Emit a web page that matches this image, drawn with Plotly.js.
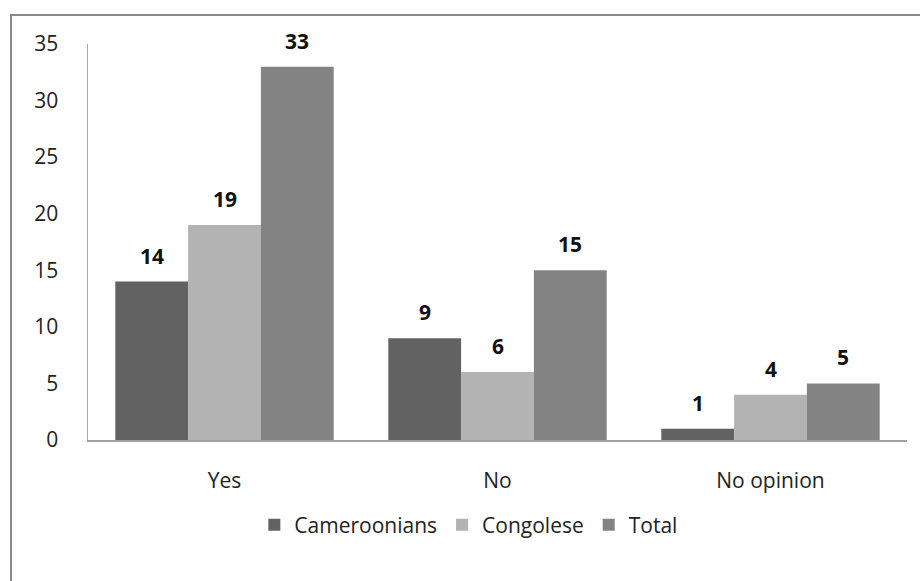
<!DOCTYPE html>
<html>
<head>
<meta charset="utf-8">
<script src="https://cdn.plot.ly/plotly-3.0.1.min.js"></script>
<style>
  html, body { margin: 0; padding: 0; background: #fff; overflow: hidden; }
  #wrap { position: relative; width: 920px; height: 581px; }
  #chart { position: absolute; left: 0; top: 0; width: 920px; height: 581px; }
  #frame {
    position: absolute; left: 10px; top: 14px; width: 940px; height: 600px;
    border-left: 2px solid #8a8a8a; border-top: 2px solid #8a8a8a;
    pointer-events: none;
  }
</style>
</head>
<body>
<div id="wrap">
  <div id="chart"></div>
  <div id="frame"></div>
</div>
<script>
// Survey answers by group
const categories = ['Yes', 'No', 'No opinion'];
const seriesNames = ['Cameroonians', 'Congolese', 'Total'];
const cameroonians = [14, 9, 1];
const congolese = [19, 6, 4];
const total = [33, 15, 5];
const yTicks = [0, 5, 10, 15, 20, 25, 30, 35];

const seriesValues = [cameroonians, congolese, total];
const seriesColors = ['#626262', '#b3b3b3', '#838383'];
const FONT = 'Open Sans, Noto Sans, sans-serif';

const traces = seriesValues.map((vals, i) => ({
  type: 'bar',
  name: seriesNames[i],
  x: categories,
  y: vals,
  marker: { color: seriesColors[i], line: { width: 0 } },
  hoverinfo: 'x+y+name'
}));

// Value labels above each bar, offset to the bar's slot within its group
const groupWidth = 0.8;
const slot = groupWidth / seriesValues.length;
const annotations = [];
seriesValues.forEach((vals, i) => {
  const offset = -groupWidth / 2 + slot * (i + 0.5);
  vals.forEach((v, j) => {
    annotations.push({
      x: j + offset, y: v, xref: 'x', yref: 'y',
      text: String(v), showarrow: false,
      yanchor: 'bottom', yshift: 10,
      font: { family: FONT, size: 21, color: '#111', weight: 'bold' }
    });
  });
});

const layout = {
  width: 920, height: 581,
  margin: { l: 88, r: 13, t: 44, b: 141 },
  paper_bgcolor: '#fff', plot_bgcolor: '#fff',
  barmode: 'group', bargap: 0.2, bargroupgap: 0,
  font: { family: FONT, size: 21, color: '#222' },
  xaxis: {
    type: 'category',
    showgrid: false, zeroline: false,
    showline: true, linecolor: '#a0a0a0', linewidth: 2,
    ticks: '', ticklabelstandoff: 21,
    tickfont: { family: FONT, size: 21, color: '#222' },
    fixedrange: true
  },
  yaxis: {
    range: [0, 35],
    tickvals: yTicks, ticktext: yTicks.map(String),
    showgrid: false, zeroline: false,
    showline: true, linecolor: '#a8a8a8', linewidth: 1.5,
    ticks: '', ticklabelstandoff: 24,
    tickfont: { family: FONT, size: 21, color: '#222' },
    fixedrange: true
  },
  legend: {
    orientation: 'h', x: 0.465, xanchor: 'center', y: -0.215, yanchor: 'middle',
    font: { family: FONT, size: 21, color: '#222' },
    itemwidth: 30, traceorder: 'normal', bgcolor: 'rgba(0,0,0,0)'
  },
  annotations: annotations,
  showlegend: true
};

Plotly.newPlot('chart', traces, layout, { displayModeBar: false, staticPlot: true });
</script>
</body>
</html>
